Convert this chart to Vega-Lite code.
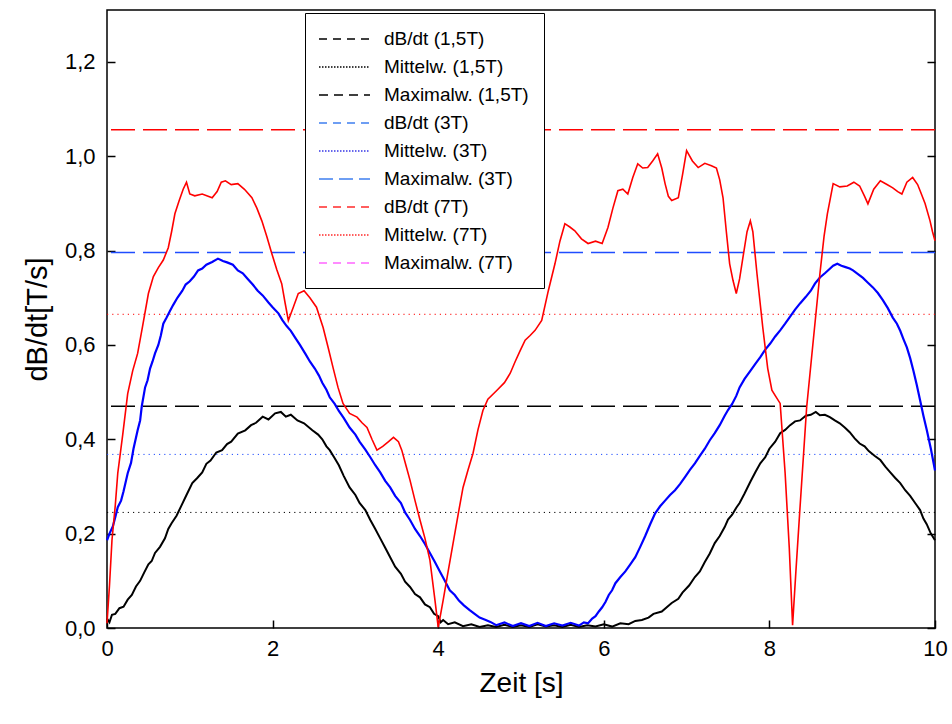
{
  "$schema": "https://vega.github.io/schema/vega-lite/v6.json",
  "width": 828,
  "height": 618,
  "autosize": {"type": "none"},
  "padding": {"left": 107, "top": 10, "right": 17, "bottom": 96},
  "background": "white",
  "config": {
    "font": "Liberation Sans",
    "view": {"stroke": "black", "strokeWidth": 1.5},
    "axis": {
      "grid": false, "domain": false, "ticks": true, "tickColor": "black", "tickSize": -8, "tickWidth": 1.5,
      "labelColor": "black", "titleColor": "black", "labelFont": "Liberation Sans", "titleFont": "Liberation Sans",
      "labelFontSize": 22, "titleFontSize": 28, "titleFontWeight": "normal", "labelFlush": false
    }
  },
  "datasets": {
    "levels": [
      {"series": "Maximalw. (1,5T)", "v": 0.47},
      {"series": "Maximalw. (3T)", "v": 0.796},
      {"series": "Maximalw. (7T)", "v": 1.056},
      {"series": "Mittelw. (1,5T)", "v": 0.245},
      {"series": "Mittelw. (3T)", "v": 0.368},
      {"series": "Mittelw. (7T)", "v": 0.665}
    ],
    "black": [
      {"t":0,"v":0.02},{"t":0.03,"v":0.012},{"t":0.06,"v":0.028},{"t":0.1,"v":0.03},{"t":0.15,"v":0.042},{"t":0.2,"v":0.045},{"t":0.25,"v":0.06},{"t":0.3,"v":0.07},{"t":0.35,"v":0.088},{"t":0.4,"v":0.1},{"t":0.45,"v":0.118},{"t":0.5,"v":0.135},{"t":0.54,"v":0.142},{"t":0.58,"v":0.159},{"t":0.64,"v":0.172},{"t":0.7,"v":0.19},{"t":0.74,"v":0.21},{"t":0.78,"v":0.222},{"t":0.84,"v":0.238},{"t":0.9,"v":0.26},{"t":0.96,"v":0.282},{"t":1.03,"v":0.307},{"t":1.09,"v":0.318},{"t":1.15,"v":0.33},{"t":1.2,"v":0.348},{"t":1.25,"v":0.355},{"t":1.32,"v":0.372},{"t":1.39,"v":0.377},{"t":1.45,"v":0.39},{"t":1.5,"v":0.395},{"t":1.58,"v":0.412},{"t":1.67,"v":0.419},{"t":1.74,"v":0.43},{"t":1.8,"v":0.435},{"t":1.88,"v":0.448},{"t":1.95,"v":0.442},{"t":2.03,"v":0.455},{"t":2.1,"v":0.458},{"t":2.16,"v":0.448},{"t":2.22,"v":0.452},{"t":2.3,"v":0.44},{"t":2.38,"v":0.434},{"t":2.48,"v":0.419},{"t":2.55,"v":0.41},{"t":2.6,"v":0.4},{"t":2.65,"v":0.385},{"t":2.69,"v":0.377},{"t":2.75,"v":0.36},{"t":2.8,"v":0.345},{"t":2.86,"v":0.322},{"t":2.93,"v":0.298},{"t":3.0,"v":0.282},{"t":3.05,"v":0.265},{"t":3.12,"v":0.25},{"t":3.18,"v":0.229},{"t":3.24,"v":0.21},{"t":3.3,"v":0.19},{"t":3.36,"v":0.17},{"t":3.42,"v":0.15},{"t":3.48,"v":0.13},{"t":3.55,"v":0.115},{"t":3.6,"v":0.098},{"t":3.66,"v":0.087},{"t":3.72,"v":0.072},{"t":3.78,"v":0.065},{"t":3.84,"v":0.05},{"t":3.9,"v":0.044},{"t":3.95,"v":0.03},{"t":4.0,"v":0.025},{"t":4.03,"v":0.012},{"t":4.06,"v":0.017},{"t":4.12,"v":0.008},{"t":4.2,"v":0.012},{"t":4.3,"v":0.004},{"t":4.4,"v":0.008},{"t":4.5,"v":0.002},{"t":4.6,"v":0.006},{"t":4.7,"v":0.002},{"t":4.8,"v":0.007},{"t":4.9,"v":0.002},{"t":5.0,"v":0.006},{"t":5.1,"v":0.002},{"t":5.2,"v":0.008},{"t":5.3,"v":0.003},{"t":5.4,"v":0.006},{"t":5.5,"v":0.002},{"t":5.6,"v":0.007},{"t":5.7,"v":0.002},{"t":5.8,"v":0.006},{"t":5.9,"v":0.003},{"t":6.0,"v":0.008},{"t":6.1,"v":0.003},{"t":6.2,"v":0.01},{"t":6.3,"v":0.008},{"t":6.38,"v":0.015},{"t":6.46,"v":0.017},{"t":6.54,"v":0.022},{"t":6.6,"v":0.03},{"t":6.7,"v":0.035},{"t":6.82,"v":0.053},{"t":6.9,"v":0.062},{"t":6.95,"v":0.075},{"t":7.03,"v":0.09},{"t":7.1,"v":0.108},{"t":7.16,"v":0.12},{"t":7.22,"v":0.14},{"t":7.28,"v":0.158},{"t":7.34,"v":0.18},{"t":7.4,"v":0.195},{"t":7.46,"v":0.214},{"t":7.5,"v":0.23},{"t":7.55,"v":0.24},{"t":7.6,"v":0.255},{"t":7.64,"v":0.265},{"t":7.7,"v":0.285},{"t":7.77,"v":0.31},{"t":7.83,"v":0.33},{"t":7.89,"v":0.349},{"t":7.95,"v":0.362},{"t":8.0,"v":0.38},{"t":8.07,"v":0.395},{"t":8.13,"v":0.413},{"t":8.19,"v":0.42},{"t":8.25,"v":0.43},{"t":8.31,"v":0.438},{"t":8.37,"v":0.44},{"t":8.44,"v":0.45},{"t":8.5,"v":0.452},{"t":8.56,"v":0.458},{"t":8.61,"v":0.451},{"t":8.67,"v":0.452},{"t":8.73,"v":0.447},{"t":8.79,"v":0.44},{"t":8.85,"v":0.434},{"t":8.91,"v":0.425},{"t":8.97,"v":0.415},{"t":9.03,"v":0.402},{"t":9.09,"v":0.391},{"t":9.15,"v":0.385},{"t":9.2,"v":0.375},{"t":9.27,"v":0.365},{"t":9.34,"v":0.356},{"t":9.4,"v":0.342},{"t":9.46,"v":0.33},{"t":9.52,"v":0.318},{"t":9.58,"v":0.307},{"t":9.64,"v":0.292},{"t":9.7,"v":0.28},{"t":9.76,"v":0.265},{"t":9.82,"v":0.25},{"t":9.86,"v":0.232},{"t":9.9,"v":0.22},{"t":9.95,"v":0.2},{"t":10.0,"v":0.186}
    ],
    "blue": [
      {"t":0,"v":0.186},{"t":0.03,"v":0.2},{"t":0.07,"v":0.215},{"t":0.1,"v":0.235},{"t":0.13,"v":0.256},{"t":0.17,"v":0.27},{"t":0.2,"v":0.29},{"t":0.25,"v":0.328},{"t":0.29,"v":0.35},{"t":0.32,"v":0.38},{"t":0.37,"v":0.419},{"t":0.4,"v":0.44},{"t":0.42,"v":0.47},{"t":0.46,"v":0.51},{"t":0.49,"v":0.525},{"t":0.52,"v":0.55},{"t":0.55,"v":0.565},{"t":0.58,"v":0.582},{"t":0.62,"v":0.6},{"t":0.65,"v":0.62},{"t":0.68,"v":0.645},{"t":0.72,"v":0.658},{"t":0.76,"v":0.672},{"t":0.8,"v":0.685},{"t":0.85,"v":0.7},{"t":0.91,"v":0.715},{"t":0.95,"v":0.728},{"t":1.0,"v":0.735},{"t":1.05,"v":0.745},{"t":1.1,"v":0.758},{"t":1.15,"v":0.762},{"t":1.2,"v":0.77},{"t":1.27,"v":0.776},{"t":1.34,"v":0.783},{"t":1.4,"v":0.778},{"t":1.45,"v":0.775},{"t":1.52,"v":0.77},{"t":1.58,"v":0.758},{"t":1.64,"v":0.752},{"t":1.7,"v":0.74},{"t":1.76,"v":0.728},{"t":1.82,"v":0.715},{"t":1.88,"v":0.705},{"t":1.95,"v":0.69},{"t":2.0,"v":0.68},{"t":2.07,"v":0.667},{"t":2.12,"v":0.652},{"t":2.17,"v":0.64},{"t":2.22,"v":0.63},{"t":2.27,"v":0.616},{"t":2.33,"v":0.6},{"t":2.4,"v":0.58},{"t":2.45,"v":0.565},{"t":2.51,"v":0.55},{"t":2.56,"v":0.535},{"t":2.6,"v":0.52},{"t":2.65,"v":0.505},{"t":2.69,"v":0.489},{"t":2.75,"v":0.475},{"t":2.8,"v":0.46},{"t":2.86,"v":0.445},{"t":2.93,"v":0.425},{"t":3.0,"v":0.41},{"t":3.05,"v":0.395},{"t":3.12,"v":0.378},{"t":3.18,"v":0.362},{"t":3.24,"v":0.345},{"t":3.3,"v":0.33},{"t":3.36,"v":0.312},{"t":3.42,"v":0.298},{"t":3.48,"v":0.28},{"t":3.55,"v":0.265},{"t":3.6,"v":0.245},{"t":3.66,"v":0.229},{"t":3.72,"v":0.21},{"t":3.78,"v":0.195},{"t":3.84,"v":0.178},{"t":3.9,"v":0.159},{"t":3.96,"v":0.14},{"t":4.02,"v":0.12},{"t":4.08,"v":0.1},{"t":4.14,"v":0.08},{"t":4.2,"v":0.07},{"t":4.25,"v":0.058},{"t":4.31,"v":0.048},{"t":4.38,"v":0.038},{"t":4.44,"v":0.03},{"t":4.5,"v":0.022},{"t":4.56,"v":0.018},{"t":4.63,"v":0.013},{"t":4.7,"v":0.006},{"t":4.8,"v":0.012},{"t":4.9,"v":0.004},{"t":5.0,"v":0.01},{"t":5.1,"v":0.004},{"t":5.2,"v":0.011},{"t":5.3,"v":0.004},{"t":5.4,"v":0.01},{"t":5.5,"v":0.005},{"t":5.6,"v":0.011},{"t":5.7,"v":0.005},{"t":5.76,"v":0.012},{"t":5.81,"v":0.01},{"t":5.86,"v":0.02},{"t":5.9,"v":0.025},{"t":5.94,"v":0.035},{"t":5.98,"v":0.044},{"t":6.02,"v":0.055},{"t":6.06,"v":0.07},{"t":6.1,"v":0.08},{"t":6.14,"v":0.095},{"t":6.2,"v":0.108},{"t":6.26,"v":0.12},{"t":6.32,"v":0.135},{"t":6.38,"v":0.15},{"t":6.44,"v":0.172},{"t":6.5,"v":0.195},{"t":6.56,"v":0.22},{"t":6.62,"v":0.243},{"t":6.68,"v":0.258},{"t":6.74,"v":0.27},{"t":6.8,"v":0.282},{"t":6.86,"v":0.292},{"t":6.92,"v":0.305},{"t":6.98,"v":0.32},{"t":7.04,"v":0.335},{"t":7.1,"v":0.349},{"t":7.16,"v":0.365},{"t":7.22,"v":0.38},{"t":7.28,"v":0.398},{"t":7.34,"v":0.413},{"t":7.4,"v":0.43},{"t":7.46,"v":0.45},{"t":7.5,"v":0.462},{"t":7.55,"v":0.475},{"t":7.6,"v":0.492},{"t":7.64,"v":0.51},{"t":7.7,"v":0.528},{"t":7.77,"v":0.545},{"t":7.83,"v":0.56},{"t":7.89,"v":0.574},{"t":7.95,"v":0.59},{"t":8.01,"v":0.603},{"t":8.07,"v":0.618},{"t":8.13,"v":0.631},{"t":8.19,"v":0.645},{"t":8.25,"v":0.66},{"t":8.31,"v":0.675},{"t":8.37,"v":0.688},{"t":8.44,"v":0.702},{"t":8.5,"v":0.715},{"t":8.55,"v":0.73},{"t":8.61,"v":0.743},{"t":8.67,"v":0.752},{"t":8.72,"v":0.76},{"t":8.77,"v":0.768},{"t":8.82,"v":0.772},{"t":8.87,"v":0.768},{"t":8.92,"v":0.765},{"t":8.97,"v":0.762},{"t":9.01,"v":0.758},{"t":9.07,"v":0.75},{"t":9.13,"v":0.742},{"t":9.19,"v":0.732},{"t":9.25,"v":0.722},{"t":9.31,"v":0.71},{"t":9.37,"v":0.695},{"t":9.43,"v":0.678},{"t":9.49,"v":0.658},{"t":9.54,"v":0.645},{"t":9.58,"v":0.63},{"t":9.62,"v":0.612},{"t":9.66,"v":0.595},{"t":9.7,"v":0.572},{"t":9.74,"v":0.545},{"t":9.78,"v":0.515},{"t":9.82,"v":0.483},{"t":9.86,"v":0.45},{"t":9.9,"v":0.42},{"t":9.95,"v":0.38},{"t":10.0,"v":0.334}
    ],
    "red": [
      {"t":0,"v":0.01},{"t":0.03,"v":0.09},{"t":0.06,"v":0.186},{"t":0.1,"v":0.26},{"t":0.13,"v":0.328},{"t":0.19,"v":0.41},{"t":0.25,"v":0.497},{"t":0.31,"v":0.545},{"t":0.37,"v":0.582},{"t":0.43,"v":0.64},{"t":0.5,"v":0.709},{"t":0.56,"v":0.745},{"t":0.62,"v":0.764},{"t":0.68,"v":0.78},{"t":0.74,"v":0.806},{"t":0.78,"v":0.84},{"t":0.82,"v":0.878},{"t":0.87,"v":0.905},{"t":0.92,"v":0.93},{"t":0.96,"v":0.945},{"t":1.0,"v":0.92},{"t":1.06,"v":0.916},{"t":1.15,"v":0.92},{"t":1.27,"v":0.912},{"t":1.33,"v":0.925},{"t":1.38,"v":0.945},{"t":1.43,"v":0.948},{"t":1.5,"v":0.94},{"t":1.58,"v":0.942},{"t":1.66,"v":0.93},{"t":1.75,"v":0.912},{"t":1.81,"v":0.89},{"t":1.87,"v":0.863},{"t":1.93,"v":0.83},{"t":1.99,"v":0.794},{"t":2.05,"v":0.76},{"t":2.11,"v":0.73},{"t":2.15,"v":0.69},{"t":2.19,"v":0.652},{"t":2.25,"v":0.68},{"t":2.31,"v":0.709},{"t":2.38,"v":0.715},{"t":2.45,"v":0.7},{"t":2.53,"v":0.68},{"t":2.61,"v":0.637},{"t":2.67,"v":0.595},{"t":2.73,"v":0.552},{"t":2.79,"v":0.51},{"t":2.85,"v":0.476},{"t":2.93,"v":0.455},{"t":3.02,"v":0.447},{"t":3.08,"v":0.435},{"t":3.14,"v":0.425},{"t":3.2,"v":0.4},{"t":3.26,"v":0.377},{"t":3.33,"v":0.385},{"t":3.4,"v":0.395},{"t":3.46,"v":0.404},{"t":3.52,"v":0.395},{"t":3.56,"v":0.377},{"t":3.61,"v":0.345},{"t":3.66,"v":0.313},{"t":3.72,"v":0.27},{"t":3.78,"v":0.229},{"t":3.84,"v":0.19},{"t":3.9,"v":0.144},{"t":3.96,"v":0.06},{"t":4.0,"v":0.002},{"t":4.03,"v":0.03},{"t":4.06,"v":0.059},{"t":4.12,"v":0.12},{"t":4.18,"v":0.18},{"t":4.24,"v":0.24},{"t":4.3,"v":0.298},{"t":4.36,"v":0.335},{"t":4.42,"v":0.37},{"t":4.48,"v":0.42},{"t":4.54,"v":0.461},{"t":4.6,"v":0.485},{"t":4.71,"v":0.504},{"t":4.8,"v":0.52},{"t":4.87,"v":0.54},{"t":4.93,"v":0.565},{"t":4.99,"v":0.588},{"t":5.05,"v":0.61},{"t":5.11,"v":0.62},{"t":5.17,"v":0.631},{"t":5.25,"v":0.652},{"t":5.33,"v":0.715},{"t":5.41,"v":0.772},{"t":5.47,"v":0.82},{"t":5.53,"v":0.857},{"t":5.59,"v":0.85},{"t":5.65,"v":0.842},{"t":5.73,"v":0.825},{"t":5.81,"v":0.815},{"t":5.9,"v":0.82},{"t":5.98,"v":0.815},{"t":6.05,"v":0.849},{"t":6.11,"v":0.89},{"t":6.17,"v":0.927},{"t":6.23,"v":0.93},{"t":6.29,"v":0.92},{"t":6.35,"v":0.955},{"t":6.41,"v":0.984},{"t":6.47,"v":0.975},{"t":6.53,"v":0.976},{"t":6.59,"v":0.99},{"t":6.65,"v":1.005},{"t":6.7,"v":0.975},{"t":6.74,"v":0.942},{"t":6.78,"v":0.915},{"t":6.82,"v":0.906},{"t":6.9,"v":0.912},{"t":6.95,"v":0.96},{"t":7.0,"v":1.012},{"t":7.07,"v":0.99},{"t":7.14,"v":0.976},{"t":7.22,"v":0.985},{"t":7.3,"v":0.98},{"t":7.36,"v":0.975},{"t":7.4,"v":0.95},{"t":7.44,"v":0.912},{"t":7.48,"v":0.84},{"t":7.52,"v":0.772},{"t":7.56,"v":0.737},{"t":7.6,"v":0.709},{"t":7.64,"v":0.74},{"t":7.68,"v":0.785},{"t":7.73,"v":0.84},{"t":7.77,"v":0.863},{"t":7.8,"v":0.84},{"t":7.85,"v":0.751},{"t":7.92,"v":0.637},{"t":7.98,"v":0.55},{"t":8.03,"v":0.504},{"t":8.08,"v":0.49},{"t":8.13,"v":0.476},{"t":8.19,"v":0.328},{"t":8.24,"v":0.17},{"t":8.28,"v":0.006},{"t":8.32,"v":0.12},{"t":8.37,"v":0.256},{"t":8.45,"v":0.468},{"t":8.53,"v":0.61},{"t":8.61,"v":0.751},{"t":8.66,"v":0.83},{"t":8.7,"v":0.878},{"t":8.77,"v":0.942},{"t":8.85,"v":0.935},{"t":8.94,"v":0.937},{"t":9.02,"v":0.945},{"t":9.09,"v":0.937},{"t":9.15,"v":0.915},{"t":9.19,"v":0.899},{"t":9.26,"v":0.93},{"t":9.34,"v":0.948},{"t":9.42,"v":0.94},{"t":9.49,"v":0.933},{"t":9.55,"v":0.925},{"t":9.6,"v":0.92},{"t":9.66,"v":0.945},{"t":9.73,"v":0.955},{"t":9.79,"v":0.94},{"t":9.82,"v":0.927},{"t":9.88,"v":0.9},{"t":9.94,"v":0.863},{"t":9.97,"v":0.84},{"t":10.0,"v":0.821}
    ]
  },
  "resolve": {"axis": {"y": "independent"}},
  "layer": [
    {
      "data": {"name": "levels"},
      "transform": [{"filter": "indexof(datum.series, 'Maximalw') === 0"}],
      "mark": {"type": "rule", "strokeDash": [24, 8], "strokeWidth": 1.5},
      "encoding": {
        "y": {"field": "v", "type": "quantitative", "scale": {"domain": [0, 1.31], "nice": false, "zero": false},
              "axis": {"orient": "right", "labels": false, "title": null, "values": [0, 0.2, 0.4, 0.6, 0.8, 1.0, 1.2]}},
        "stroke": {"field": "series", "type": "nominal", "legend": null,
          "scale": {"domain": ["Maximalw. (1,5T)", "Maximalw. (3T)", "Maximalw. (7T)"], "range": ["#000000", "#1f4dff", "#ff0000"]}}
      }
    },
    {
      "data": {"name": "levels"},
      "transform": [{"filter": "indexof(datum.series, 'Mittelw') === 0"}],
      "mark": {"type": "rule", "strokeDash": [1.2, 4], "strokeWidth": 1},
      "encoding": {
        "y": {"field": "v", "type": "quantitative", "axis": null},
        "stroke": {"field": "series", "type": "nominal", "legend": null,
          "scale": {"domain": ["Mittelw. (1,5T)", "Mittelw. (3T)", "Mittelw. (7T)"], "range": ["#000000", "#2020ff", "#ff0000"]}}
      }
    },
    {
      "data": {"name": "black"},
      "mark": {"type": "line", "color": "#000000", "strokeWidth": 2},
      "encoding": {
        "x": {"field": "t", "type": "quantitative", "scale": {"domain": [0, 10], "nice": false},
              "axis": {"title": "Zeit [s]", "values": [0, 2, 4, 6, 8, 10], "format": "d", "labelFlush": false, "labelPadding": 18, "titlePadding": 10}},
        "y": {"field": "v", "type": "quantitative",
              "axis": {"orient": "left", "title": "dB/dt[T/s]", "values": [0, 0.2, 0.4, 0.6, 0.8, 1.0, 1.2],
                       "labelExpr": "replace(format(datum.value, '.1f'), '.', ',')", "labelPadding": 20, "titlePadding": 12, "titleFontSize": 29}}
      }
    },
    {
      "data": {"name": "blue"},
      "mark": {"type": "line", "color": "#0000ff", "strokeWidth": 2.2},
      "encoding": {
        "x": {"field": "t", "type": "quantitative"},
        "y": {"field": "v", "type": "quantitative", "axis": null}
      }
    },
    {
      "data": {"name": "red"},
      "mark": {"type": "line", "color": "#ff0000", "strokeWidth": 1.6},
      "encoding": {
        "x": {"field": "t", "type": "quantitative"},
        "y": {"field": "v", "type": "quantitative", "axis": null}
      }
    },
    {
      "data": {"values": []},
      "mark": {"type": "rule"},
      "encoding": {
        "y": {"field": "v", "type": "quantitative", "axis": null},
        "color": {"field": "series", "type": "nominal",
          "scale": {"domain": ["dB/dt (1,5T)", "Mittelw. (1,5T)", "Maximalw. (1,5T)", "dB/dt (3T)", "Mittelw. (3T)", "Maximalw. (3T)", "dB/dt (7T)", "Mittelw. (7T)", "Maximalw. (7T)"],
                    "range": ["#000000", "#000000", "#000000", "#3f7ff0", "#3636e6", "#3f7ff0", "#ff2a2a", "#ff2a2a", "#ff66ff"]},
          "legend": {"orient": "none", "legendX": 198, "legendY": 3, "title": null, "symbolType": "M-2.55,0H2.55", "symbolSize": 400, "symbolStrokeWidth": 1.5,
                     "symbolOffset": 13.5,
                     "labelFontSize": 19, "labelFont": "Liberation Sans", "labelColor": "black", "strokeColor": "black", "fillColor": "white",
                     "padding": 15, "rowPadding": 7, "labelOffset": 28.5, "labelLimit": 300}},
        "strokeDash": {"field": "series", "type": "nominal",
          "scale": {"domain": ["dB/dt (1,5T)", "Mittelw. (1,5T)", "Maximalw. (1,5T)", "dB/dt (3T)", "Mittelw. (3T)", "Maximalw. (3T)", "dB/dt (7T)", "Mittelw. (7T)", "Maximalw. (7T)"],
                    "range": [[8, 6], [1.5, 1.5], [9, 6], [8, 6], [1.5, 1.5], [14, 6], [8, 6], [1.5, 1.5], [8, 6]]},
          "legend": {"orient": "none", "legendX": 198, "legendY": 3, "title": null, "symbolType": "M-2.55,0H2.55", "symbolSize": 400, "symbolStrokeWidth": 1.5,
                     "symbolOffset": 13.5,
                     "labelFontSize": 19, "labelFont": "Liberation Sans", "labelColor": "black", "strokeColor": "black", "fillColor": "white",
                     "padding": 15, "rowPadding": 7, "labelOffset": 28.5, "labelLimit": 300}}
      }
    }
  ]
}
